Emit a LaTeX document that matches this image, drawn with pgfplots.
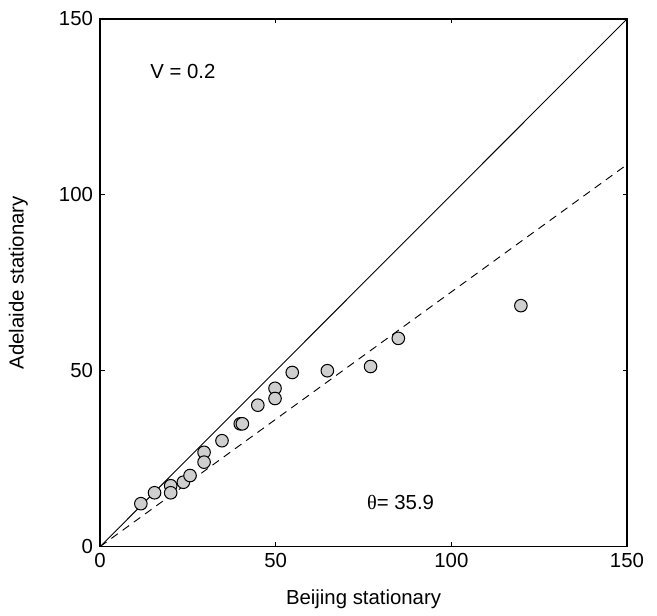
\documentclass[border=0pt]{standalone}
\usepackage{pgfplots}
\pgfplotsset{compat=1.18}
\usepackage{fontspec}
\setmainfont{Liberation Sans}
\newfontfamily\serifgreek{Liberation Serif}

\begin{document}
\begin{tikzpicture}
\fontsize{11}{13}\selectfont
\begin{axis}[
  width=284.6pt, height=285pt, scale only axis,
  xmin=0, xmax=150, ymin=0, ymax=150,
  xtick={0,50,100,150}, ytick={0,50,100,150},
  tick align=inside, major tick length=2.4pt,
  axis line style={line width=0.7pt}, tick style={line width=0.5pt, black},
  tick label style={font=\fontsize{11}{13}\selectfont},
  /pgf/number format/assume math mode=true,
  xlabel={Beijing stationary}, ylabel={Adelaide stationary},
  label style={font=\fontsize{11}{13}\selectfont},
  xlabel style={at={(rel axis cs:0.5,-0.099)}, anchor=center},
  ylabel style={at={(rel axis cs:-0.155,0.5)}, anchor=center},
  clip=false]
  \path (rel axis cs:-0.19,-0.121) rectangle (rel axis cs:1.057,1.036);
  \addplot[black, line width=0.5pt] coordinates {(0,0) (150,150)};
  \addplot[black, line width=0.5pt, dash pattern=on 4.3pt off 3.2pt] coordinates {(0,0) (150,108.6)};
  \addplot[only marks, mark=*, mark size=3.4pt,
    mark options={fill=black!19, draw=black, line width=0.55pt}] coordinates {
    (11.6,12.2) (15.5,15.3) (20.1,17.3) (20.1,15.3) (23.7,18.3) (25.6,20.2)
    (29.6,26.8) (29.6,24.0) (34.7,30.1) (39.9,34.9) (40.5,34.9) (44.9,40.2)
    (49.8,45.0) (49.8,42.1) (54.7,49.5) (64.7,50.0) (77.0,51.2) (84.9,59.2)
    (119.8,68.5)};
  \node[anchor=west, inner sep=0pt] at (axis cs:14.2,135) {V = 0.2};
  \node[anchor=west, inner sep=0pt] at (axis cs:75.9,12.5) {{\serifgreek θ}= 35.9};
\end{axis}
\end{tikzpicture}
\end{document}
